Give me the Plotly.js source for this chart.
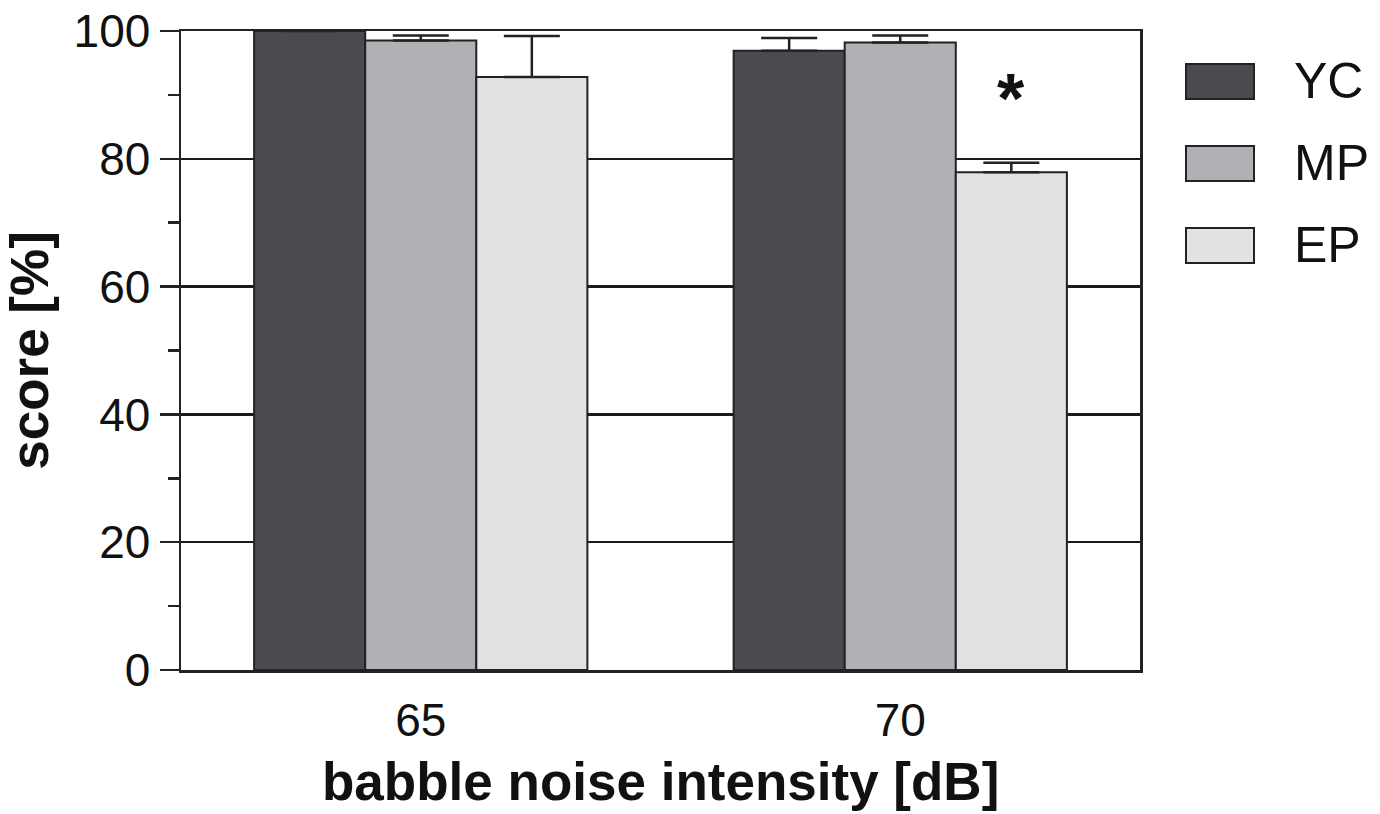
<!DOCTYPE html>
<html>
<head>
<meta charset="utf-8">
<script src="https://cdn.plot.ly/plotly-3.0.1.min.js"></script>
<style>html,body{margin:0;padding:0;background:#fff;}#chart{width:1380px;height:814px;}</style>
</head>
<body>
<div id="chart"></div>
<script>
const categories = ['65', '70'];
const seriesNames = ['YC', 'MP', 'EP'];
const ycValues = [100, 96.9];
const mpValues = [98.5, 98.2];
const epValues = [92.8, 77.9];
const ycErr = [0, 2.0];
const mpErr = [0.8, 1.1];
const epErr = [6.4, 1.5];
const colors = ['#4a4b4e', '#b0b1b4', '#e1e2e4'];
const yTickVals = [0, 20, 40, 60, 80, 100];
const xTitle = 'babble noise intensity [dB]';
const yTitle = 'score [%]';
const sigMark = {category: '70', series: 'EP', y: 91, text: '*'};

const values = [ycValues, mpValues, epValues];
const errs = [ycErr, mpErr, epErr];
const font = 'Liberation Sans, Arial, Helvetica, sans-serif';

const traces = seriesNames.map((n, i) => ({
  type: 'bar', name: n, x: categories, y: values[i],
  marker: {color: colors[i], line: {color: '#222', width: 2}},
  error_y: {type: 'data', array: errs[i], arrayminus: errs[i].map(() => 0), symmetric: false,
            color: '#222', thickness: 2.5, width: 28},
  showlegend: false, hoverinfo: 'skip'
}));

// legend drawn in paper coordinates
const shapes = [];
const annotations = [];
const legTop = [64, 146, 228];
seriesNames.forEach((n, i) => {
  shapes.push({type: 'rect', xref: 'paper', yref: 'paper',
    x0: (1186 - 181) / 959, x1: (1254 - 181) / 959,
    y0: (670 - legTop[i] - 35) / 639, y1: (670 - legTop[i]) / 639,
    fillcolor: colors[i], line: {color: '#222', width: 2}});
  annotations.push({xref: 'paper', yref: 'paper', x: (1292 - 181) / 959,
    y: (670 - legTop[i] - 17) / 639, xanchor: 'left', yanchor: 'middle',
    text: n, showarrow: false, font: {family: font, size: 50, color: '#111'}});
});
const sIdx = seriesNames.indexOf(sigMark.series);
annotations.push({x: categories.indexOf(sigMark.category), y: sigMark.y, xref: 'x', yref: 'y', text: sigMark.text,
  showarrow: false, xshift: (sIdx - 1) * 111.5 - 1, yshift: -10,
  font: {family: font, size: 70, color: '#111', weight: 'bold'}});
// x-axis title placed as annotation below tick labels
annotations.push({xref: 'paper', yref: 'paper', x: 0.5, y: 0, yshift: -111, xanchor: 'center', yanchor: 'middle',
  text: xTitle, showarrow: false, font: {family: font, size: 53, color: '#111', weight: 'bold'}});

const layout = {
  width: 1380, height: 814,
  margin: {l: 181, r: 240, t: 31, b: 144, pad: 0},
  paper_bgcolor: '#fff', plot_bgcolor: '#fff',
  barmode: 'group', bargap: 0.305, bargroupgap: 0,
  showlegend: false,
  font: {family: font, color: '#111'},
  xaxis: {
    type: 'category', range: [-0.5, 1.5],
    showline: true, linecolor: '#222', linewidth: 2.5, mirror: true,
    ticks: 'outside', ticklen: 8, tickcolor: 'rgba(0,0,0,0)',
    tickfont: {family: font, size: 46, color: '#111'},
    showgrid: false, zeroline: false,
    automargin: false, fixedrange: true
  },
  yaxis: {
    range: [0, 100], tickvals: yTickVals, ticktext: yTickVals.map(String),
    showline: true, linecolor: '#222', linewidth: 2.5, mirror: true,
    ticks: 'outside', ticklen: 19, tickwidth: 2.5, tickcolor: '#222',
    minor: {dtick: 10, tick0: 0, ticks: 'outside', ticklen: 11, tickwidth: 2.5, tickcolor: '#222', showgrid: false},
    tickfont: {family: font, size: 46, color: '#111'},
    showgrid: true, gridcolor: '#1a1a1a', gridwidth: 2.5, zeroline: false,
    title: {text: yTitle, standoff: 8, font: {family: font, size: 53, color: '#111', weight: 'bold'}},
    automargin: false, fixedrange: true
  },
  shapes: shapes, annotations: annotations
};

Plotly.newPlot('chart', traces, layout, {displayModeBar: false, staticPlot: true});
</script>
</body>
</html>
